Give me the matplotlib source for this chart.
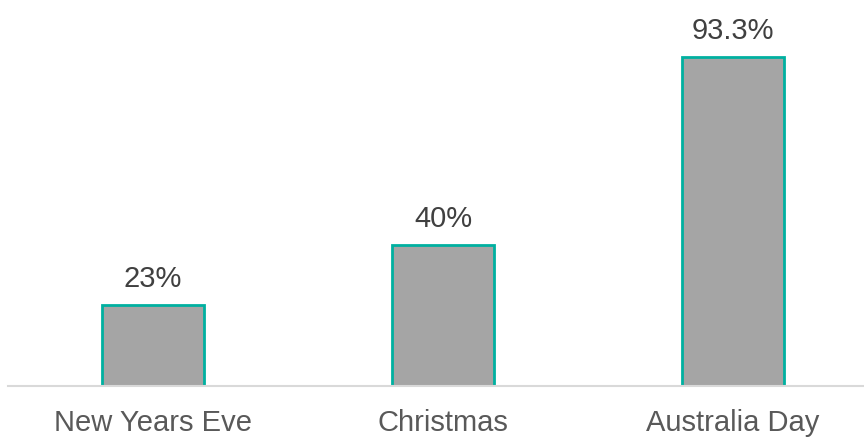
import matplotlib.pyplot as plt

categories = ["New Years Eve", "Christmas", "Australia Day"]
values = [23, 40, 93.3]
labels = ["23%", "40%", "93.3%"]

plt.rcParams['font.family'] = ['Liberation Sans', 'DejaVu Sans']

fig = plt.figure(figsize=(8.64, 4.39), dpi=100)
ax = fig.add_axes([8 / 864, 52 / 439, 856 / 864, 387 / 439])

x = list(range(len(categories)))
ax.bar(x, values, width=0.35, color="#A5A5A5", edgecolor="#00B0A0", linewidth=2, zorder=2)

for xi, v, lab in zip(x, values, labels):
    ax.annotate(lab, (xi, v), xytext=(0, 9), textcoords="offset points",
                ha="center", va="bottom", fontsize=21, color="#404040")

ax.set_xlim(-0.5, 2.452)
ax.set_ylim(0, 109.6)
ax.set_xticks(x)
ax.set_xticklabels(categories, fontsize=21, color="#595959")
ax.tick_params(axis="x", length=0, pad=16)
ax.set_yticks([])
for s in ["top", "right", "left"]:
    ax.spines[s].set_visible(False)
ax.spines["bottom"].set_color("#D9D9D9")
ax.spines["bottom"].set_linewidth(1.5)
ax.spines["bottom"].set_zorder(3)

fig.savefig("out.png", dpi=100)
